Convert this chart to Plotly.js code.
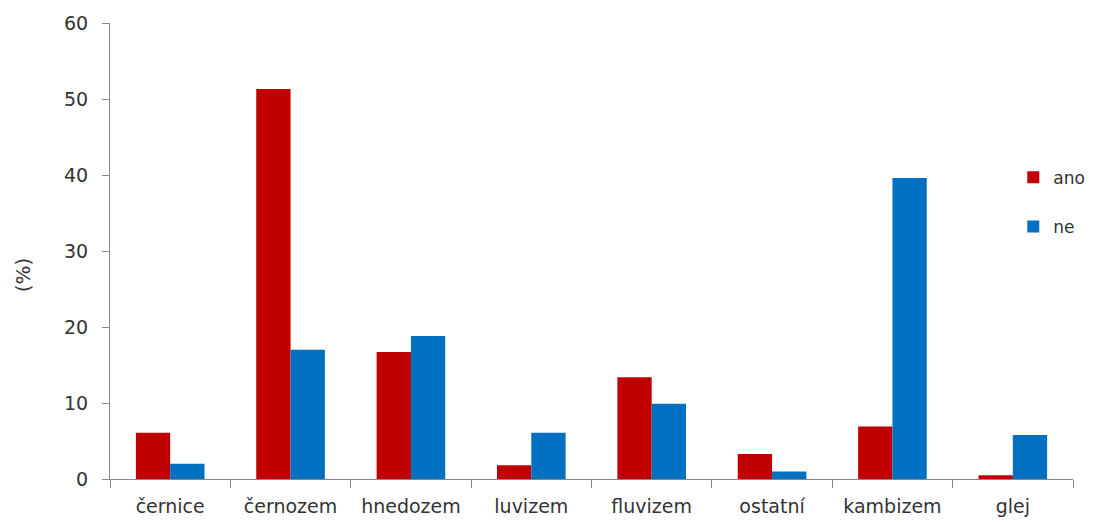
<!DOCTYPE html>
<html>
<head>
<meta charset="utf-8">
<script src="https://cdn.plot.ly/plotly-3.0.1.min.js"></script>
<style>html,body{margin:0;padding:0;background:#fff;}#chart{width:1093px;height:522px;}</style>
</head>
<body>
<div id="chart"></div>
<script>
const categories = ["černice", "černozem", "hnedozem", "luvizem", "fluvizem", "ostatní", "kambizem", "glej"];
const ano = [6.1, 51.3, 16.7, 1.8, 13.4, 3.3, 6.9, 0.5];
const ne = [2.0, 17.0, 18.8, 6.1, 9.9, 1.0, 39.6, 5.8];
const yTicks = [0, 10, 20, 30, 40, 50, 60];
const yTitle = "(%)";

const traces = [
  {type: "bar", name: "ano", x: categories, y: ano, marker: {color: "#C00000"}, legendgroup: "a"},
  {type: "bar", name: "ne", x: categories, y: ne, marker: {color: "#0070C0"}, legendgroup: "b"}
];

const layout = {
  width: 1093, height: 522,
  margin: {l: 110, r: 20, t: 23, b: 43, autoexpand: false},
  paper_bgcolor: "#fff", plot_bgcolor: "#fff",
  font: {family: "DejaVu Sans, sans-serif", size: 19, color: "#333"},
  barmode: "group",
  bargap: 0.43,
  bargroupgap: 0,
  showlegend: true,
  legend: {x: 0.938, y: 0.70, xanchor: "left", yanchor: "top", traceorder: "grouped", tracegroupgap: 24,
           font: {size: 17, color: "#333"}, itemwidth: 30, bgcolor: "rgba(0,0,0,0)"},
  xaxis: {
    type: "category",
    showline: true, linecolor: "#888", linewidth: 1,
    ticks: "outside", tickson: "boundaries", ticklen: 8, tickcolor: "#888",
    showgrid: false, zeroline: false,
    ticklabelstandoff: 10,
    tickfont: {size: 19, color: "#333"}
  },
  yaxis: {
    range: [0, 60],
    tickvals: yTicks,
    showline: true, linecolor: "#888", linewidth: 1,
    ticks: "outside", ticklen: 7, tickcolor: "#888",
    showgrid: false, zeroline: false,
    ticklabelstandoff: 10,
    tickfont: {size: 19, color: "#333"}
  },
  annotations: [{
    text: yTitle, xref: "paper", yref: "paper", x: -0.0903, y: 0.447,
    xanchor: "center", yanchor: "middle", textangle: -90, showarrow: false,
    font: {size: 20, color: "#333"}
  }]
};

Plotly.newPlot("chart", traces, layout, {displayModeBar: false, staticPlot: true});
</script>
</body>
</html>
